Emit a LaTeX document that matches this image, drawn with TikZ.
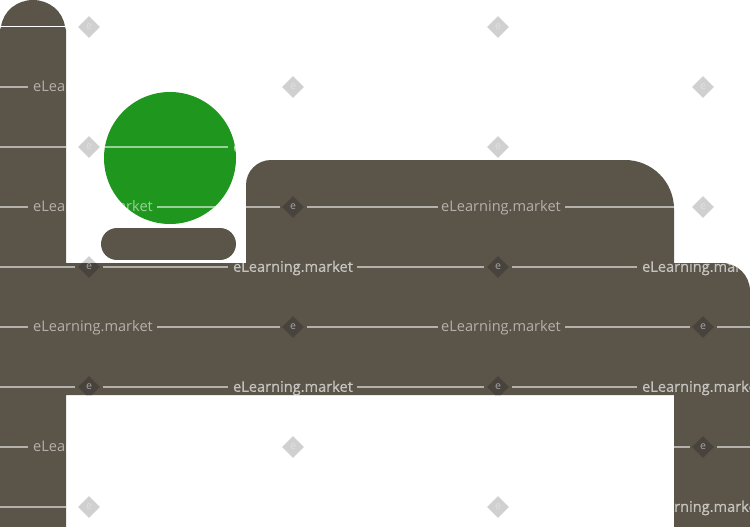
\documentclass[tikz,border=0pt]{standalone}
\usepackage{fontspec}
\setmainfont{Open Sans}
\newfontfamily\markbold[FakeBold=0.4]{Open Sans}
\usetikzlibrary{shapes.geometric}

\definecolor{bedbrown}{HTML}{5A5449}
\definecolor{headgreen}{HTML}{1F971F}
\definecolor{marklight}{HTML}{D0D0D0}
\definecolor{markdark}{HTML}{48433C}

\begin{document}
\begin{tikzpicture}[x=0.02cm,y=-0.02cm,
    bedpath/.style={insert path={
        (0,527) -- (0,30) -- (1,27)
        .. controls (3,11) and (17,0) .. (33,0)
        .. controls (49,0) and (63,11) .. (65,27)
        -- (66,30) -- (66,263) -- (246,263)
        [rounded corners=0.5cm] -- (246,160)
        [rounded corners=0.98cm] -- (674,160)
        [sharp corners] -- (674,263)
        [rounded corners=0.56cm] -- (750,263)
        [sharp corners] -- (750,527) -- (674,527) -- (674,395)
        -- (66,395) -- (66,527) -- cycle}},
    headpath/.style={insert path={(170,158) circle [radius=66]}},
    markrule/.style={draw=white,opacity=0.55,line width=0.85pt},
    marktext/.style={text=white,text opacity=0.55,inner sep=0pt,font=\fontsize{8.3}{10}\selectfont},
    markboldtext/.style={marktext,text opacity=0.62,font=\fontsize{8.3}{10}\markbold},
    markdiamond/.style={shape=diamond,inner sep=0pt,minimum size=0.44cm,
      font=\fontsize{6}{7}\selectfont}]

  \useasboundingbox (0,0) rectangle (750,527);

  % pale marks on the white ground
  \foreach \colx/\rowy in {89/27,498/27,293/87,703/87,89/147,498/147,
                           703/207,89/267,293/447,89/507,498/507}
    \node [markdiamond,fill=marklight,text=white!88!black]
      (pale-\colx-\rowy) at (\colx,\rowy) {e};

  \fill [bedbrown,bedpath];
  \fill [headgreen,headpath];
  \node (pillow) [fill=bedbrown,rounded corners=0.32cm,inner sep=0pt,
                  minimum width=2.7cm,minimum height=0.64cm] at (168.5,244) {};

  \begin{scope}
    \clip [bedpath,headpath];

    \foreach \colx/\rowy in {293/207,293/327,703/327,703/447,
                             89/267,498/267,89/387,498/387}
      \node [markdiamond,fill=markdark,text=white!65!black]
        (dark-\colx-\rowy) at (\colx,\rowy) {e};

    \foreach \colx/\rowy in {93/87,93/207,501/207,93/327,501/327,93/447}
      \node [marktext] (word-\colx-\rowy) at (\colx,\rowy+1) {eLearning.market};

    \foreach \colx/\rowy in {293/147,293/267,702/267,293/387,702/387,702/507}
      \node [markboldtext] (word-\colx-\rowy) at (\colx,\rowy+1) {eLearning.market};

    \foreach \rowy in {87,207,327,447}
      \foreach \colfrom/\colto in {0/28,157/280,307/438,565/690,717/750}
        \draw [markrule] (\colfrom,\rowy) -- (\colto,\rowy);

    \foreach \rowy in {147,267,387,507}
      \foreach \colfrom/\colto in {0/75,103/228,357/484,512/637}
        \draw [markrule] (\colfrom,\rowy) -- (\colto,\rowy);

    \draw [draw=white,line width=0.75pt] (0,26.5) -- (75,26.5);
  \end{scope}

\end{tikzpicture}
\end{document}
